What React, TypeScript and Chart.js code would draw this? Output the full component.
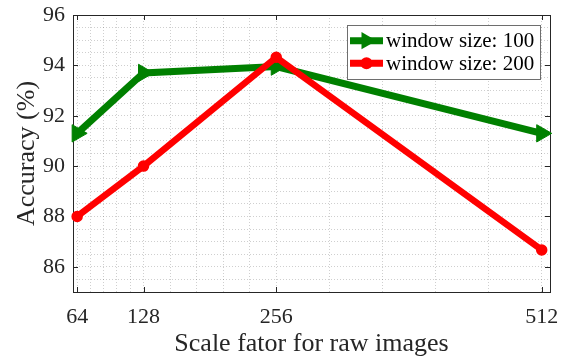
import React, { useEffect, useRef } from "react";
import { Chart, registerables } from "chart.js";

Chart.register(...registerables);

const scaleFactors = [64, 128, 256, 512];
const accWindow100 = [91.3, 93.7, 93.95, 91.3];
const accWindow200 = [88.0, 90.0, 94.32, 86.67];
const seriesLabels = ["window size: 100", "window size: 200"];
const seriesColors = ["#008000", "#ff0000"];
const xMajorTicks = [64, 128, 256, 512];
const yMajorTicks = [86, 88, 90, 92, 94, 96];
const xTitle = "Scale fator for raw images";
const yTitle = "Accuracy (%)";

const FONT = "'Liberation Serif', 'Times New Roman', serif";

function buildXGrid(): number[] {
  const out: number[] = [];
  for (let i = 0; i < xMajorTicks.length - 1; i++) {
    const a = xMajorTicks[i];
    const b = xMajorTicks[i + 1];
    for (let k = 0; k < 5; k++) out.push(a + ((b - a) * k) / 5);
  }
  out.push(xMajorTicks[xMajorTicks.length - 1]);
  return out;
}

function buildYGrid(): number[] {
  const out: number[] = [];
  for (let v = 85; v <= 96.0001; v += 0.5) out.push(Math.round(v * 10) / 10);
  return out;
}

const boxPlugin = {
  id: "matlabBox",
  beforeDatasetsDraw(chart: any) {
    const { ctx, chartArea } = chart;
    const { left, right, top, bottom } = chartArea;
    const xs = chart.scales.x;
    const ys = chart.scales.y;
    ctx.save();
    ctx.strokeStyle = "#262626";
    ctx.lineWidth = 1;
    ctx.beginPath();
    const tl = 5;
    xMajorTicks.forEach((v) => {
      const px = Math.round(xs.getPixelForValue(v)) + 0.5;
      ctx.moveTo(px, bottom);
      ctx.lineTo(px, bottom - tl);
      ctx.moveTo(px, top);
      ctx.lineTo(px, top + tl);
    });
    yMajorTicks.forEach((v) => {
      const py = Math.round(ys.getPixelForValue(v)) + 0.5;
      ctx.moveTo(left, py);
      ctx.lineTo(left + tl, py);
      ctx.moveTo(right, py);
      ctx.lineTo(right - tl, py);
    });
    ctx.stroke();
    ctx.strokeRect(Math.round(left) + 0.5, Math.round(top) + 0.5, Math.round(right - left), Math.round(bottom - top));
    ctx.restore();
  },
  afterDraw(chart: any) {
    const { ctx, chartArea } = chart;
    const bx = chartArea.right - 203;
    const by = chartArea.top + 10;
    const bw = 193;
    const bh = 54;
    ctx.save();
    ctx.fillStyle = "#ffffff";
    ctx.fillRect(bx, by, bw, bh);
    ctx.strokeStyle = "#6e6e6e";
    ctx.lineWidth = 1;
    ctx.strokeRect(Math.round(bx) + 0.5, Math.round(by) + 0.5, bw, bh);
    const rows = [by + 15.7, by + 38.3];
    rows.forEach((ry, i) => {
      const c = seriesColors[i];
      ctx.strokeStyle = c;
      ctx.fillStyle = c;
      ctx.lineWidth = 7;
      ctx.beginPath();
      ctx.moveTo(bx + 3, ry);
      ctx.lineTo(bx + 36, ry);
      ctx.stroke();
      const mx = bx + 19.5;
      ctx.beginPath();
      if (i === 0) {
        const r = 10;
        for (let k = 0; k < 3; k++) {
          const ang = Math.PI / 2 + (k * 2 * Math.PI) / 3;
          const px = mx + Math.sin(ang) * r;
          const py = ry - Math.cos(ang) * r;
          if (k === 0) ctx.moveTo(px, py);
          else ctx.lineTo(px, py);
        }
        ctx.closePath();
      } else {
        ctx.arc(mx, ry, 6, 0, Math.PI * 2);
      }
      ctx.fill();
      ctx.fillStyle = "#000000";
      ctx.font = `21px ${FONT}`;
      ctx.textBaseline = "middle";
      ctx.textAlign = "left";
      ctx.fillText(seriesLabels[i], bx + 39, ry + 1);
    });
    ctx.restore();
  },
};

export default function App() {
  const canvasRef = useRef<HTMLCanvasElement | null>(null);

  useEffect(() => {
    const canvas = canvasRef.current;
    if (!canvas) return;
    const xGrid = buildXGrid();
    const yGrid = buildYGrid();
    const chart = new Chart(canvas, {
      type: "line",
      data: {
        datasets: [
          {
            label: seriesLabels[0],
            data: scaleFactors.map((x, i) => ({ x, y: accWindow100[i] })),
            borderColor: seriesColors[0],
            backgroundColor: seriesColors[0],
            borderWidth: 7,
            pointStyle: "triangle",
            pointRotation: 90,
            pointRadius: 10,
            pointBorderWidth: 1,
            pointBackgroundColor: seriesColors[0],
            pointBorderColor: seriesColors[0],
            clip: false as any,
            order: 1,
          },
          {
            label: seriesLabels[1],
            data: scaleFactors.map((x, i) => ({ x, y: accWindow200[i] })),
            borderColor: seriesColors[1],
            backgroundColor: seriesColors[1],
            borderWidth: 6.5,
            pointStyle: "circle",
            pointRadius: 5,
            pointBorderWidth: 1.5,
            pointBackgroundColor: seriesColors[1],
            pointBorderColor: seriesColors[1],
            clip: false as any,
            order: 0,
          },
        ],
      },
      options: {
        responsive: false,
        animation: false,
        devicePixelRatio: 1,
        layout: { padding: { top: 15, right: 14, left: 0, bottom: 0 } },
        plugins: { legend: { display: false }, tooltip: { enabled: false } },
        elements: { line: { tension: 0 } },
        scales: {
          x: {
            type: "linear",
            min: 60,
            max: 520,
            afterFit: (s: any) => {
              s.height = 66;
              s.paddingLeft = 0;
              s.paddingRight = 0;
            },
            afterBuildTicks: (s: any) => {
              s.ticks = xGrid.map((v) => ({ value: v }));
            },
            ticks: {
              autoSkip: false,
              maxRotation: 0,
              padding: 12,
              color: "#262626",
              font: { family: FONT, size: 22 },
              callback: (v: any) => (xMajorTicks.includes(Number(v)) ? String(v) : ""),
            },
            grid: { color: "rgba(38,38,38,0.22)", lineWidth: 1, drawTicks: false },
            border: { display: false, dash: [1, 2] },
            title: {
              display: true,
              text: xTitle,
              color: "#262626",
              font: { family: FONT, size: 26, lineHeight: 1 },
              padding: { top: 0, bottom: 1 },
            },
          },
          y: {
            type: "linear",
            min: 85,
            max: 96,
            afterFit: (s: any) => {
              s.width = 73;
              s.paddingTop = 0;
              s.paddingBottom = 0;
            },
            afterBuildTicks: (s: any) => {
              s.ticks = yGrid.map((v) => ({ value: v }));
            },
            ticks: {
              autoSkip: false,
              padding: 8,
              color: "#262626",
              font: { family: FONT, size: 22 },
              callback: (v: any) => (yMajorTicks.includes(Number(v)) ? String(v) : ""),
            },
            grid: { color: "rgba(38,38,38,0.22)", lineWidth: 1, drawTicks: false },
            border: { display: false, dash: [1, 2] },
            title: {
              display: true,
              text: yTitle,
              color: "#262626",
              font: { family: FONT, size: 26, lineHeight: 1 },
              padding: { top: 14, bottom: 0 },
            },
          },
        },
      },
      plugins: [boxPlugin],
    });
    return () => chart.destroy();
  }, []);

  return (
    <div style={{ position: "fixed", left: 0, top: 0, width: 564, height: 358, background: "#fff" }}>
      <canvas ref={canvasRef} width={564} height={358} style={{ width: 564, height: 358 }} />
    </div>
  );
}
